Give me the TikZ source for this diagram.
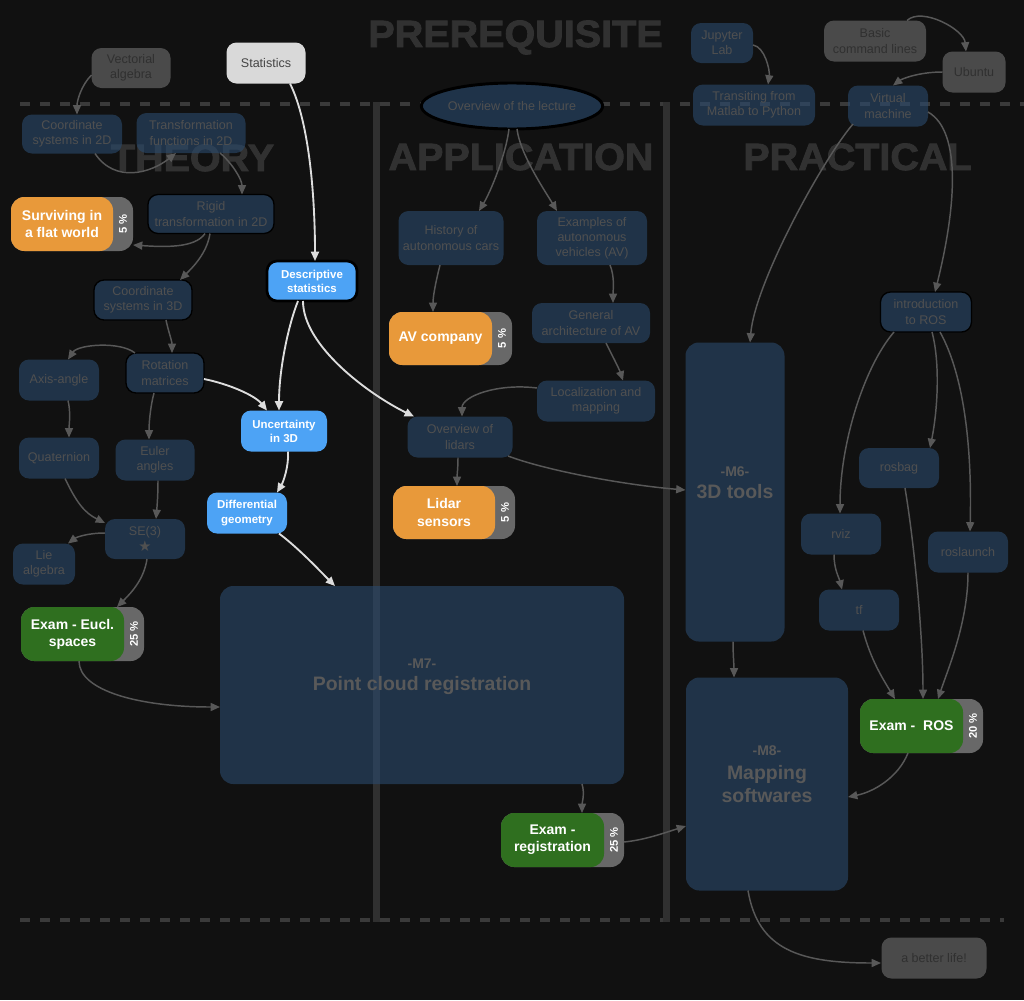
\documentclass[tikz,border=0pt]{standalone}
\usepackage{fontspec}
\setmainfont{Liberation Sans}
\newfontfamily\symfont{DejaVu Sans}
\newfontfamily\headfont[FakeBold=2.2,FakeStretch=1.04]{Liberation Sans Bold}
\usetikzlibrary{arrows.meta,shapes.geometric}
\definecolor{bgc}{HTML}{111111}
\definecolor{dimfill}{HTML}{2A4A6E}
\definecolor{ovfill}{HTML}{1F3349}
\definecolor{dimtext}{HTML}{505050}
\definecolor{prefill}{HTML}{4A4A4A}
\definecolor{pretext}{HTML}{303030}
\definecolor{statfill}{HTML}{D9D9D9}
\definecolor{stattext}{HTML}{444444}
\definecolor{brightc}{HTML}{4DA3F5}
\definecolor{orangec}{HTML}{E8993A}
\definecolor{greenc}{HTML}{2F6F1F}
\definecolor{tabc}{HTML}{686868}
\definecolor{dimline}{HTML}{585858}
\definecolor{brline}{HTML}{DDDDDD}
\definecolor{headc}{HTML}{313131}
\definecolor{dashc}{HTML}{3A3A3A}
\definecolor{barc}{HTML}{303030}
\tikzset{
  sz/.style 2 args={minimum width=#1*0.75pt, minimum height=#2*0.75pt},
  base/.style={rounded corners=7.5pt, align=center, inner sep=0pt, font=\fontsize{9.4}{11.3}\selectfont},
  dim/.style={base, fill=dimfill, fill opacity=0.6, text opacity=1, text=dimtext},
  dimb/.style={dim, draw=black, draw opacity=1, line width=1pt},
  pre/.style={base, fill=prefill, text=pretext},
  statbox/.style={base, fill=statfill, text=stattext},
  brightbox/.style={base, fill=brightc, text=white, font=\fontsize{8.6}{10.6}\selectfont\bfseries},
  tabbox/.style={rounded corners=10pt, fill=tabc, inner sep=0pt},
  gradebox/.style={rounded corners=10pt, inner sep=0pt, align=center, text=white, font=\fontsize{10.5}{12.8}\selectfont\bfseries},
  tabtxt/.style={rotate=90, text=white, inner sep=0pt, font=\fontsize{8.4}{9}\selectfont\bfseries},
  bigbox/.style={dim, rounded corners=10pt, font=\fontsize{14.6}{17}\selectfont\bfseries, text=dimtext!95!white},
  mlab/.style={inner sep=0pt, text=dimtext!95!white, font=\fontsize{10.5}{12}\selectfont\bfseries},
  heading/.style={inner sep=0pt, anchor=base, text=headc, font=\headfont\fontsize{28.5}{30}\selectfont},
  dimarr/.style={draw=dimline, line width=1.1pt, -{Triangle[length=7pt,width=6pt]}},
  brarr/.style={draw=brline, line width=1.4pt, -{Triangle[length=7pt,width=6pt]}}
}
\begin{document}
\begin{tikzpicture}[x=0.75pt,y=-0.75pt]
\fill[bgc] (0,0) rectangle (1024,1000);
\useasboundingbox (0,0) rectangle (1024,1000);
% headings
\node[heading] (hpre) at (515.5,47) {PREREQUISITE};
\node[heading] (hth) at (192.5,171) {THEORY};
\node[heading] (hap) at (521,170) {APPLICATION};
\node[heading] (hpr) at (857.5,170) {PRACTICAL};
% separators
\draw[dashc, line width=3pt, dash pattern=on 7.5pt off 7.5pt] (20,104) -- (1024,104);
\draw[dashc, line width=3pt, dash pattern=on 7.5pt off 7.5pt] (20,920) -- (1004,920);
\fill[barc] (372.5,102) rectangle (379.5,922);
\fill[barc] (662.5,102) rectangle (669.5,922);
% prerequisite nodes
\node[pre, sz={79}{40}] (vect) at (131,68) {Vectorial\\algebra};
\node[statbox, sz={79}{41}] (stat) at (266,63) {Statistics};
\node[dim, sz={62}{40}] (jup) at (722,43) {Jupyter\\Lab};
\node[dim, sz={122}{41}] (trans) at (754,105) {Transiting from\\Matlab to Python};
\node[pre, sz={102}{41}] (basic) at (875,41) {Basic\\command lines};
\node[pre, sz={63}{41}] (ubu) at (974,72) {Ubuntu};
\node[dim, sz={80}{41}] (vm) at (888,106) {Virtual\\machine};
\node[ellipse, fill=ovfill, draw=black, line width=2.2pt, text=dimtext, inner sep=0pt, minimum width=162*0.75pt, minimum height=46*0.75pt, font=\fontsize{9.4}{11.3}\selectfont] (ov) at (512,106) {Overview of the lecture};
% theory
\node[dim, sz={100}{39}] (c2d) at (72,134) {Coordinate\\systems in 2D};
\node[dim, sz={109}{40}] (tf2d) at (191,133) {Transformation\\functions in 2D};
\node[dimb, sz={126}{39}] (rigid) at (211,214) {Rigid\\transformation in 2D};
\node[tabbox, sz={122}{54}] (survg) at (72,224) {};
\node[gradebox, fill=orangec, sz={102}{54}] (surv) at (62,224) {Surviving in\\a flat world};
\node[tabtxt] (survp) at (123,224) {5 \%};
\node[brightbox, draw=black, line width=2pt, sz={90}{40}] (desc) at (312,281) {Descriptive\\statistics};
\node[dimb, sz={98}{40}] (c3d) at (143,300) {Coordinate\\systems in 3D};
\node[dimb, sz={78}{40}] (rot) at (165,373) {Rotation\\matrices};
\node[dim, sz={80}{41}] (axis) at (59,380) {Axis-angle};
\node[dim, sz={80}{41}] (quat) at (59,458) {Quaternion};
\node[dim, sz={79}{41}] (euler) at (155,460) {Euler\\angles};
\node[dim, sz={80}{40}] (se3) at (145,539) {SE(3)\\{\symfont\fontsize{11}{12}\selectfont ★}};
\node[dim, sz={62}{41}] (lie) at (44,564) {Lie\\algebra};
\node[tabbox, sz={123}{54}] (euclg) at (82.5,634) {};
\node[gradebox, fill=greenc, sz={103}{54}] (eucl) at (72.5,634) {Exam - Eucl.\\spaces};
\node[tabtxt] (euclp) at (134,634) {25 \%};
\node[brightbox, sz={86}{41}] (unc) at (284,431) {Uncertainty\\in 3D};
\node[brightbox, sz={80}{41}] (diff) at (247,513) {Differential\\geometry};
\node[bigbox, sz={404}{198}] (m7) at (422,685) {Point cloud registration};
\node[mlab] (m7lab) at ([shift={(0,-21)}]m7.center) {-M7-};
% application
\node[dim, sz={105}{54}] (hist) at (451,238) {History of\\autonomous cars};
\node[dim, sz={110}{54}] (exav) at (592,238) {Examples of\\autonomous\\vehicles (AV)};
\node[tabbox, sz={123}{53}] (avg) at (450.5,338.5) {};
\node[gradebox, fill=orangec, sz={103}{53}] (av) at (440.5,338.5) {AV company};
\node[tabtxt] (avp) at (502,338.5) {5 \%};
\node[dim, sz={118}{40}] (gen) at (591,323) {General\\architecture of AV};
\node[dim, sz={118}{41}] (loc) at (596,401) {Localization and\\mapping};
\node[dim, sz={105}{41}] (ovl) at (460,437) {Overview of\\lidars};
\node[tabbox, sz={122}{53}] (lidg) at (454,512.5) {};
\node[gradebox, fill=orangec, sz={102}{53}] (lid) at (444,512.5) {Lidar\\sensors};
\node[tabtxt] (lidp) at (505,512.5) {5 \%};
\node[tabbox, sz={123}{54}] (regg) at (562.5,840) {};
\node[gradebox, fill=greenc, sz={103}{54}] (reg) at (552.5,840) {Exam -\\registration};
\node[tabtxt] (regp) at (614,840) {25 \%};
% practical
\node[dimb, sz={91}{40}] (ros) at (926,312) {introduction\\to ROS};
\node[bigbox, sz={99}{299}] (m6) at (735,492) {3D tools};
\node[mlab] (m6lab) at ([shift={(0,-20)}]m6.center) {-M6-};
\node[dim, sz={80}{40}] (rosbag) at (899,468) {rosbag};
\node[dim, sz={80}{41}] (rviz) at (841,534) {rviz};
\node[dim, sz={80}{41}] (roslaunch) at (968,552) {roslaunch};
\node[dim, sz={80}{41}] (tf) at (859,610) {tf};
\node[bigbox, sz={162}{213}] (m8) at (767,784) {Mapping\\softwares};
\node[mlab] (m8lab) at ([shift={(0,-33)}]m8.center) {-M8-};
\node[tabbox, sz={123}{54}] (rosg) at (921.5,726) {};
\node[gradebox, fill=greenc, sz={103}{54}] (rosx) at (911.5,726) {Exam -~ ROS};
\node[tabtxt] (rosp) at (973,726) {20 \%};
\node[pre, sz={105}{41}] (life) at (934,958) {a better life!};
% connectors
\draw[dimarr] ([shift={(-39.5,7)}]vect.center) .. controls +(-10,10) and +(0,-14) .. ([shift={(5,-19.5)}]c2d.center);
\draw[brarr] ([shift={(24,20.5)}]stat.center) .. controls +(20,40) and +(0,-60) .. ([shift={(3,-20)}]desc.center);
\draw[dimarr] ([shift={(31,2)}]jup.center) .. controls +(12,2) and +(2,-14) .. ([shift={(14,-20.5)}]trans.center);
\draw[dimarr] ([shift={(32,-20.5)}]basic.center) .. controls +(15,-14) and +(-2,-22) .. ([shift={(-8,-20.5)}]ubu.center);
\draw[dimarr] ([shift={(-31.5,0)}]ubu.center) .. controls +(-25,0) and +(8,-6) .. ([shift={(5,-20.5)}]vm.center);
\draw[dimarr] ([shift={(-3,23)}]ov.center) .. controls +(-3,25) and +(12,-20) .. ([shift={(28,-27)}]hist.center);
\draw[dimarr] ([shift={(5,23)}]ov.center) .. controls +(3,25) and +(-12,-20) .. ([shift={(-35,-27)}]exav.center);
\draw[dimarr] ([shift={(-35,18)}]vm.center) .. controls +(-30,35) and +(5,-60) .. ([shift={(15,-149.5)}]m6.center);
\draw[dimarr] ([shift={(40,6)}]vm.center) .. controls +(35,20) and +(20,-80) .. ([shift={(9,-20)}]ros.center);
\draw[dimarr] ([shift={(23,19.5)}]c2d.center) .. controls +(20,30) and +(-25,20) .. ([shift={(-15,20)}]tf2d.center);
\draw[dimarr] ([shift={(29,20)}]tf2d.center) .. controls +(12,10) and +(0,-15) .. ([shift={(31,-19.5)}]rigid.center);
\draw[dimarr] ([shift={(-6,19.5)}]rigid.center) .. controls +(-10,15) and +(30,2) .. ([shift={(61,21)}]survg.center);
\draw[dimarr] ([shift={(-1,19.5)}]rigid.center) .. controls +(-3,20) and +(12,-12) .. ([shift={(37,-20)}]c3d.center);
\draw[dimarr] ([shift={(23,20)}]c3d.center) .. controls +(2,10) and +(0,-12) .. ([shift={(7,-20)}]rot.center);
\draw[dimarr] ([shift={(-30,-20)}]rot.center) .. controls +(-15,-12) and +(10,-15) .. ([shift={(9,-20.5)}]axis.center);
\draw[dimarr] ([shift={(9,20.5)}]axis.center) .. controls +(3,12) and +(0,-12) .. ([shift={(10,-20.5)}]quat.center);
\draw[dimarr] ([shift={(-11,20)}]rot.center) .. controls +(-4,15) and +(0,-15) .. ([shift={(-6,-20.5)}]euler.center);
\draw[dimarr] ([shift={(6,20.5)}]quat.center) .. controls +(12,25) and +(-20,-10) .. ([shift={(-40,-16)}]se3.center);
\draw[dimarr] ([shift={(3,20.5)}]euler.center) .. controls +(0,15) and +(1,-12) .. ([shift={(11,-20)}]se3.center);
\draw[dimarr] ([shift={(-40,-6)}]se3.center) .. controls +(-18,0) and +(8,-6) .. ([shift={(24,-20.5)}]lie.center);
\draw[dimarr] ([shift={(2,20)}]se3.center) .. controls +(-3,20) and +(15,-15) .. ([shift={(34.5,-27)}]euclg.center);
\draw[dimarr] ([shift={(-3.5,27)}]euclg.center) .. controls +(0,30) and +(-80,0) .. ([shift={(-202,22)}]m7.center);
\draw[brarr] ([shift={(39,6)}]rot.center) .. controls +(25,5) and +(-12,-15) .. ([shift={(-17,-20.5)}]unc.center);
\draw[brarr] ([shift={(-14,20)}]desc.center) .. controls +(-10,25) and +(0,-40) .. ([shift={(-5,-20.5)}]unc.center);
\draw[brarr] ([shift={(-9,20)}]desc.center) .. controls +(0,45) and +(-45,-22) .. ([shift={(-46,-20.5)}]ovl.center);
\draw[brarr] ([shift={(4,20.5)}]unc.center) .. controls +(1,15) and +(6,-10) .. ([shift={(30,-20.5)}]diff.center);
\draw[brarr] ([shift={(32,20.5)}]diff.center) .. controls +(20,15) and +(-15,-15) .. ([shift={(-87,-99)}]m7.center);
\draw[dimarr] ([shift={(-11,27)}]hist.center) .. controls +(-5,20) and +(0,-15) .. ([shift={(-7.5,-26.5)}]av.center);
\draw[dimarr] ([shift={(18,27)}]exav.center) .. controls +(5,12) and +(0,-12) .. ([shift={(22,-20)}]gen.center);
\draw[dimarr] ([shift={(15,20)}]gen.center) .. controls +(6,12) and +(-4,-12) .. ([shift={(27,-20.5)}]loc.center);
\draw[dimarr] ([shift={(-59,-13)}]loc.center) .. controls +(-40,-5) and +(0,-20) .. ([shift={(2,-20.5)}]ovl.center);
\draw[dimarr] ([shift={(-2,20.5)}]ovl.center) .. controls +(0,10) and +(0,-10) .. ([shift={(13,-26.5)}]lid.center);
\draw[dimarr] ([shift={(48,19)}]ovl.center) .. controls +(40,15) and +(-60,-5) .. ([shift={(-49.5,-2)}]m6.center);
\draw[dimarr] ([shift={(160,99)}]m7.center) .. controls +(3,10) and +(0,-10) .. ([shift={(29.5,-27)}]reg.center);
\draw[dimarr] ([shift={(61.5,2)}]regg.center) .. controls +(20,-2) and +(-25,8) .. ([shift={(-81,42)}]m8.center);
\draw[dimarr] ([shift={(-2,149.5)}]m6.center) .. controls +(0,12) and +(0,-12) .. ([shift={(-33,-106.5)}]m8.center);
\draw[dimarr] ([shift={(-19,106.5)}]m8.center) .. controls +(10,60) and +(-80,0) .. ([shift={(-53,5)}]life.center);
\draw[dimarr] ([shift={(-13.5,27)}]rosg.center) .. controls +(-10,25) and +(25,-5) .. ([shift={(81,13)}]m8.center);
\draw[dimarr] ([shift={(-32,20)}]ros.center) .. controls +(-30,35) and +(0,-70) .. ([shift={(-1,-20.5)}]rviz.center);
\draw[dimarr] ([shift={(6,20)}]ros.center) .. controls +(8,30) and +(8,-40) .. ([shift={(31,-20)}]rosbag.center);
\draw[dimarr] ([shift={(14,20)}]ros.center) .. controls +(25,45) and +(2,-80) .. ([shift={(2,-20.5)}]roslaunch.center);
\draw[dimarr] ([shift={(-7,20.5)}]rviz.center) .. controls +(0,15) and +(-3,-12) .. ([shift={(-17,-20.5)}]tf.center);
\draw[dimarr] ([shift={(4,20.5)}]tf.center) .. controls +(8,30) and +(-12,-20) .. ([shift={(-16.5,-27)}]rosx.center);
\draw[dimarr] ([shift={(6,20)}]rosbag.center) .. controls +(10,60) and +(0,-60) .. ([shift={(11.5,-27)}]rosx.center);
\draw[dimarr] ([shift={(0,20.5)}]roslaunch.center) .. controls +(0,50) and +(10,-30) .. ([shift={(16.5,-27)}]rosg.center);
\end{tikzpicture}
\end{document}
